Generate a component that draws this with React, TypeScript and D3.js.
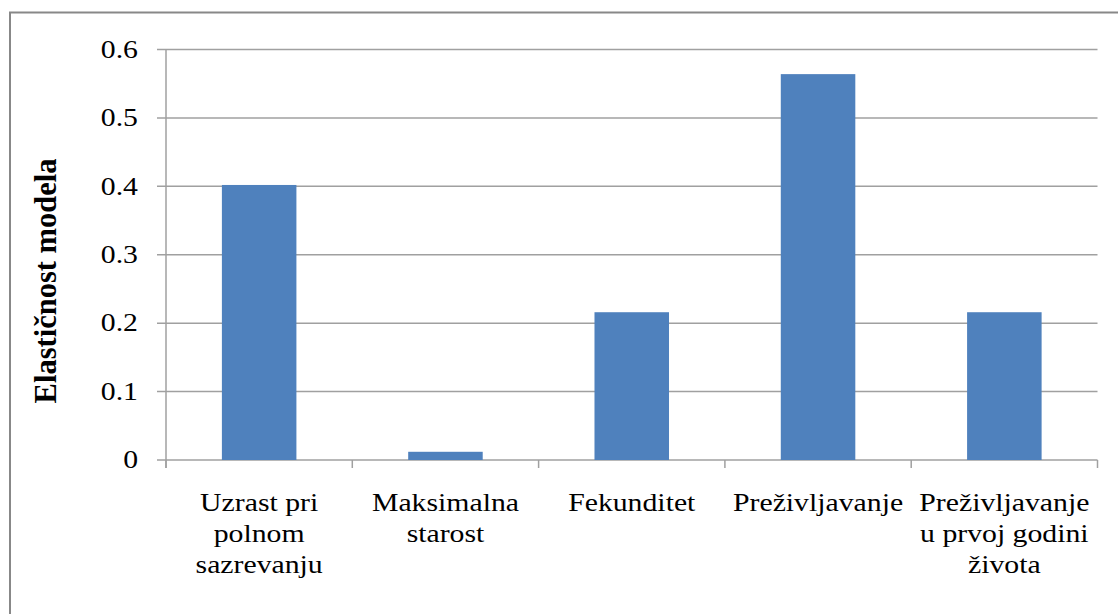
import * as d3 from 'd3';

const categories = [
  ['Uzrast pri', 'polnom', 'sazrevanju'],
  ['Maksimalna', 'starost'],
  ['Fekunditet'],
  ['Preživljavanje'],
  ['Preživljavanje', 'u prvoj godini', 'života'],
];
const values = [0.402, 0.012, 0.216, 0.564, 0.216];
const yTicks = [0, 0.1, 0.2, 0.3, 0.4, 0.5, 0.6];
const yTitle = 'Elastičnost modela';

const width = 1118;
const height = 614;
const left = 166;
const right = 1097.5;
const top = 49.5;
const bottom = 460;
const sx = 1.19;
const font = '"Liberation Serif", "Times New Roman", serif';

export default function App() {
  const keys = categories.map((_, i) => String(i));
  const x = d3
    .scaleBand<string>()
    .domain(keys)
    .range([left, right])
    .paddingInner(0.6)
    .paddingOuter(0.3);
  const y = d3.scaleLinear([0, 0.6], [bottom, top]);
  const step = x.step();
  const bounds = d3.range(categories.length + 1).map((i) => left + i * step);

  return (
    <svg
      width={width}
      height={height}
      style={{ position: 'absolute', left: 0, top: 0, display: 'block', background: '#fff' }}
    >
      <rect x={10} y={12.5} width={1200} height={700} fill='#fff' stroke='#888' strokeWidth={2} />

      <g stroke='#a0a0a0' strokeWidth={1.5}>
        {yTicks.map((t) => (
          <line key={t} x1={left - 9} x2={right} y1={y(t)} y2={y(t)} />
        ))}
        <line x1={left} x2={left} y1={top} y2={bottom + 8} />
        {bounds.map((b, i) => (
          <line key={i} x1={b} x2={b} y1={bottom} y2={bottom + 8} />
        ))}
      </g>

      <g fill='#4f81bd'>
        {values.map((v, i) => (
          <rect
            key={i}
            x={x(String(i))}
            y={y(v)}
            width={x.bandwidth()}
            height={y(0) - y(v)}
          />
        ))}
      </g>

      <g fontFamily={font} fontSize={25} fill='#000'>
        {yTicks.map((t) => (
          <text
            key={t}
            textAnchor='end'
            dominantBaseline='central'
            transform={`translate(138,${y(t)}) scale(${sx},1)`}
          >
            {t === 0 ? '0' : d3.format('.1f')(t)}
          </text>
        ))}
        {categories.map((lines, i) => {
          const cx = (x(String(i)) ?? 0) + x.bandwidth() / 2;
          return lines.map((ln, j) => (
            <text
              key={`${i}-${j}`}
              textAnchor='middle'
              transform={`translate(${cx},${511 + j * 31}) scale(${sx},1)`}
            >
              {ln}
            </text>
          ));
        })}
        <text
          fontWeight='bold'
          fontSize={30.5}
          textAnchor='middle'
          transform={`translate(56,281) rotate(-90)`}
        >
          {yTitle}
        </text>
      </g>
    </svg>
  );
}
